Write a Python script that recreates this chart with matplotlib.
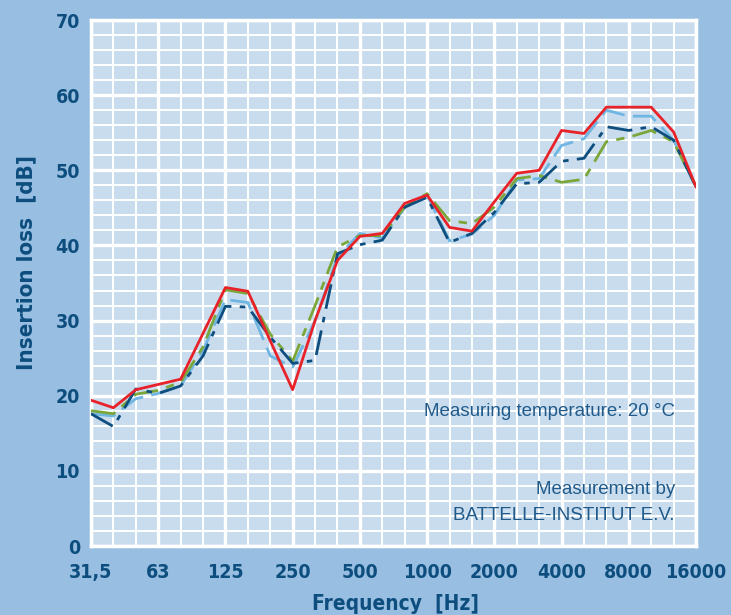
import matplotlib
matplotlib.use("Agg")
import matplotlib.pyplot as plt

# third-octave bands, 31.5 Hz .. 16 kHz
bands = [31.5, 40, 50, 63, 80, 100, 125, 160, 200, 250, 315, 400, 500, 630,
         800, 1000, 1250, 1600, 2000, 2500, 3150, 4000, 5000, 6300, 8000,
         10000, 12500, 16000]
tick_labels = ["31,5", "63", "125", "250", "500", "1000", "2000", "4000",
               "8000", "16000"]

red = [19.4, 18.4, 20.8, 21.5, 22.2, 28.3, 34.4, 33.9, 27.3, 20.8, 30.0, 38.0,
       41.2, 41.6, 45.6, 46.7, 42.4, 41.9, 45.8, 49.6, 50.0, 55.3, 54.9, 58.4,
       58.4, 58.4, 55.1, 47.8]
light_blue = [17.6, 17.3, 19.6, 20.3, 21.3, 26.0, 32.8, 32.4, 25.3, 23.8, 30.0,
              38.5, 41.6, 41.0, 45.0, 46.7, 40.6, 41.5, 44.0, 48.7, 48.9, 53.3,
              54.2, 58.0, 57.2, 57.2, 54.0, 47.8]
green = [18.0, 17.6, 20.2, 20.7, 21.8, 26.5, 34.1, 33.6, 28.2, 24.6, 32.0, 39.8,
         41.3, 41.3, 45.1, 46.9, 43.3, 42.9, 45.1, 48.9, 49.3, 48.4, 48.8, 53.8,
         54.4, 55.3, 53.8, 47.8]
dark_blue = [17.6, 15.9, 20.9, 20.3, 21.3, 25.3, 31.9, 31.8, 27.8, 24.3, 24.7,
             38.9, 40.1, 40.7, 45.1, 46.4, 40.4, 41.6, 44.4, 48.2, 48.4, 51.2,
             51.6, 55.8, 55.3, 55.8, 54.0, 47.8]

BG = "#98bee2"
PANEL = "#c9dcee"
NAVY = "#0d4e7e"
cond = dict(family="DejaVu Sans", stretch="condensed", fontweight="bold",
            color=NAVY)

fig = plt.figure(figsize=(7.31, 6.15), dpi=100, facecolor=BG)
ax = fig.add_axes([91/731, 1 - 546/615, (696-91)/731, (546-20)/615])
ax.set_facecolor(PANEL)

x = list(range(len(bands)))
ax.plot(x, light_blue, color="#6fb6e2", lw=2.0, dashes=(9, 3), zorder=3)
ax.plot(x, green, color="#7aa63a", lw=2.0, dashes=(9, 3, 3, 3), zorder=3)
ax.plot(x, dark_blue, color=NAVY, lw=2.0, dashes=(9, 3, 2, 3), zorder=4)
ax.plot(x, red, color="#e82229", lw=2.0, zorder=5)

ax.set_xlim(0, len(bands) - 1)
ax.set_ylim(0, 70)
ax.set_xticks(range(0, len(bands), 3))
ax.set_xticklabels(tick_labels)
ax.set_xticks(x, minor=True)
ax.set_yticks(range(0, 71, 10))
ax.set_yticks(range(0, 71, 2), minor=True)
ax.grid(which="major", color="white", lw=2.4, zorder=1)
ax.grid(which="minor", color="white", lw=1.4, zorder=1)
ax.set_axisbelow(True)
ax.tick_params(which="both", length=0)
ax.tick_params(axis="x", pad=12)
ax.tick_params(axis="y", pad=8)
for lab in ax.get_xticklabels() + ax.get_yticklabels():
    lab.set_family("DejaVu Sans")
    lab.set_stretch("condensed")
    lab.set_fontweight("bold")
    lab.set_fontsize(14)
    lab.set_color(NAVY)
for s in ax.spines.values():
    s.set_color("white")
    s.set_linewidth(2.5)

fig.text(26/731, 1 - 263/615, "Insertion loss  [dB]", rotation=90,
         ha="center", va="center", fontsize=16, **cond)
fig.text(395/731, 1 - 604/615, "Frequency  [Hz]", ha="center", va="center",
         fontsize=15, **cond)

note = dict(ha="right", va="center", family=["Liberation Sans", "DejaVu Sans"],
            fontsize=13.5, color="#1f5a8a")
ax.text(0.965, 1 - (412-20)/526, "Measuring temperature: 20 °C",
        transform=ax.transAxes, **note)
ax.text(0.965, 1 - (490-20)/526, "Measurement by",
        transform=ax.transAxes, **note)
ax.text(0.965, 1 - (515-20)/526, "BATTELLE-INSTITUT E.V.",
        transform=ax.transAxes, **note)

fig.savefig("out.png", dpi=100, facecolor=BG)
